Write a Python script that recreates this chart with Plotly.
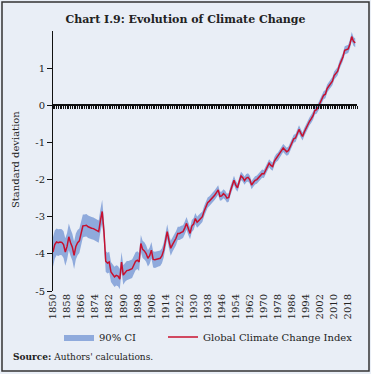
import plotly.graph_objects as go

years = list(range(1850, 2023))

gcci = [
    -3.95, -3.75, -3.68, -3.70, -3.68, -3.69, -3.75, -3.95, -3.80, -3.54,
    -3.70, -3.82, -4.04, -3.80, -3.70, -3.65, -3.45, -3.25, -3.24, -3.23,
    -3.27, -3.30, -3.31, -3.32, -3.35, -3.37, -3.40, -3.10, -2.86, -3.40,
    -4.20, -4.25, -4.22, -4.49, -4.55, -4.62, -4.58, -4.60, -4.68, -4.22,
    -4.57, -4.49, -4.45, -4.44, -4.43, -4.40, -4.30, -4.20, -4.17, -4.22,
    -3.72, -3.88, -3.92, -3.99, -4.12, -4.05, -3.90, -4.15, -4.16, -4.14,
    -4.13, -4.12, -4.05, -3.90, -3.65, -3.40, -3.65, -3.85, -3.75, -3.68,
    -3.58, -3.45, -3.45, -3.42, -3.40, -3.30, -3.18, -3.32, -3.45, -3.25,
    -3.20, -3.05, -3.15, -3.10, -3.05, -3.00, -2.85, -2.72, -2.62, -2.58,
    -2.53, -2.48, -2.42, -2.35, -2.28, -2.45, -2.44, -2.38, -2.42, -2.50,
    -2.48, -2.30, -2.12, -2.02, -2.15, -2.22, -2.05, -1.90, -1.95, -2.03,
    -1.96, -1.94, -2.00, -2.15, -2.08, -2.02, -2.00, -1.95, -1.90, -1.84,
    -1.85, -1.75, -1.62, -1.56, -1.62, -1.65, -1.50, -1.42, -1.38, -1.30,
    -1.22, -1.15, -1.20, -1.25, -1.22, -1.10, -0.98, -0.90, -0.88, -0.78,
    -0.65, -0.75, -0.84, -0.72, -0.62, -0.50, -0.43, -0.36, -0.28, -0.14,
    -0.12, -0.04, 0.08, 0.20, 0.27, 0.30, 0.45, 0.52, 0.58, 0.65,
    0.80, 0.87, 0.92, 1.08, 1.18, 1.30, 1.48, 1.50, 1.52, 1.65,
    1.85, 1.72, 1.68,
]

ci_half = [
    0.40, 0.38, 0.36, 0.36, 0.35, 0.35, 0.36, 0.37, 0.36, 0.36,
    0.36, 0.36, 0.37, 0.35, 0.34, 0.33, 0.32, 0.31, 0.30, 0.30,
    0.30, 0.30, 0.30, 0.30, 0.30, 0.30, 0.30, 0.31, 0.32, 0.30,
    0.28, 0.28, 0.28, 0.27, 0.27, 0.27, 0.27, 0.27, 0.27, 0.27,
    0.26, 0.26, 0.26, 0.25, 0.25, 0.25, 0.24, 0.24, 0.24, 0.24,
    0.23, 0.23, 0.23, 0.22, 0.22, 0.22, 0.22, 0.22, 0.22, 0.21,
    0.21, 0.21, 0.20, 0.20, 0.20, 0.20, 0.20, 0.20, 0.19, 0.19,
    0.19, 0.18, 0.18, 0.18, 0.17, 0.17, 0.17, 0.17, 0.16, 0.16,
    0.16, 0.15, 0.15, 0.15, 0.15, 0.14, 0.14, 0.14, 0.14, 0.13,
    0.13, 0.13, 0.13, 0.13, 0.13, 0.12, 0.12, 0.12, 0.12, 0.12,
    0.12, 0.12, 0.12, 0.12, 0.12, 0.11, 0.11, 0.11, 0.11, 0.11,
    0.11, 0.11, 0.11, 0.11, 0.11, 0.11, 0.11, 0.11, 0.11, 0.11,
    0.11, 0.11, 0.11, 0.11, 0.11, 0.11, 0.11, 0.11, 0.11, 0.11,
    0.11, 0.11, 0.11, 0.11, 0.11, 0.11, 0.11, 0.11, 0.11, 0.11,
    0.11, 0.11, 0.11, 0.11, 0.11, 0.11, 0.11, 0.11, 0.11, 0.11,
    0.11, 0.11, 0.11, 0.11, 0.11, 0.11, 0.11, 0.11, 0.11, 0.11,
    0.11, 0.11, 0.11, 0.11, 0.11, 0.11, 0.11, 0.11, 0.11, 0.12,
    0.12, 0.12, 0.12,
]

tick_years = list(range(1850, 2019, 8))
y_ticks = [-5, -4, -3, -2, -1, 0, 1]

lower = [v - h for v, h in zip(gcci, ci_half)]
upper = [v + h for v, h in zip(gcci, ci_half)]

BG = "#e9eef6"
FONT = "DejaVu Serif"
W, H = 371, 374
ML, MR, MT, MB = 53, 14, 31, 83

fig = go.Figure()
fig.add_trace(go.Scatter(x=years, y=lower, mode="lines", line=dict(width=0, color="rgba(0,0,0,0)"),
                         showlegend=False, hoverinfo="skip"))
fig.add_trace(go.Scatter(x=years, y=upper, mode="lines", line=dict(width=0, color="rgba(0,0,0,0)"),
                         fill="tonexty", fillcolor="#8faadc", name="90% CI", legend="legend"))
fig.add_trace(go.Scatter(x=years, y=gcci, mode="lines", line=dict(width=1.5, color="#c8102e"),
                         name="Global Climate Change Index", legend="legend2"))
# invisible trace to activate the zero-line axis
fig.add_trace(go.Scatter(x=[1850, 2023], y=[0, 0], xaxis="x2", mode="lines",
                         line=dict(width=0, color="rgba(0,0,0,0)"), showlegend=False, hoverinfo="skip"))

pw = W - ML - MR
ph = H - MT - MB

def px_x(p):
    return (p - ML) / pw

def px_y(p):
    return (H - MB - p) / ph

leg_common = dict(orientation="h", xanchor="left", yanchor="middle", y=px_y(337),
                  bgcolor="rgba(0,0,0,0)", font=dict(family=FONT, size=10, color="#222"),
                  itemwidth=30, traceorder="normal")

fig.update_layout(
    width=W, height=H,
    margin=dict(l=ML, r=MR, t=MT, b=MB, autoexpand=False),
    paper_bgcolor=BG, plot_bgcolor=BG,
    font=dict(family=FONT, size=10, color="#222"),
    title=dict(text="<b>Chart I.9: Evolution of Climate Change</b>", x=0.5, xanchor="center",
               y=1 - 19 / H, yanchor="middle", font=dict(family=FONT, size=11, color="#222")),
    xaxis=dict(range=[1850, 2023], tickmode="array", tickvals=tick_years,
               ticktext=[str(t) for t in tick_years], tickangle=-90, showgrid=False,
               zeroline=False, showline=False, ticks="", tickfont=dict(size=10, color="#222")),
    xaxis2=dict(range=[1850, 2023], overlaying="x", anchor="free", position=5 / 7,
                side="bottom", showline=True, linecolor="#111", linewidth=1.5,
                ticks="outside", ticklen=3, tickwidth=1, tickcolor="#111",
                tickmode="linear", tick0=1850, dtick=1, showticklabels=False, showgrid=False,
                zeroline=False),
    yaxis=dict(range=[-5, 2], tickmode="array", tickvals=y_ticks, ticktext=[str(t) for t in y_ticks],
               showgrid=False, zeroline=False, showline=True, linecolor="#111", linewidth=1,
               ticks="outside", ticklen=5, tickcolor="#111", tickfont=dict(size=10, color="#222")),
    showlegend=True,
    legend=dict(x=px_x(59), **leg_common),
    legend2=dict(x=px_x(163), **leg_common),
)

fig.add_annotation(text="Standard deviation", xref="paper", yref="paper", x=px_x(15), y=px_y(160),
                   textangle=-90, showarrow=False, font=dict(family=FONT, size=10, color="#222"),
                   xanchor="center", yanchor="middle")
fig.add_annotation(text="<b>Source:</b> Authors' calculations.", xref="paper", yref="paper",
                   x=px_x(11), y=px_y(357), xanchor="left", yanchor="middle", showarrow=False,
                   font=dict(family=FONT, size=9, color="#222"))
fig.add_shape(type="rect", xref="paper", yref="paper", x0=px_x(2), x1=px_x(369), y0=px_y(371), y1=px_y(2),
              line=dict(color="#333", width=1.5), fillcolor="rgba(0,0,0,0)", layer="above")

fig.write_html("out.html", config={"displayModeBar": False},
               post_script="document.body.style.margin='0px';")
